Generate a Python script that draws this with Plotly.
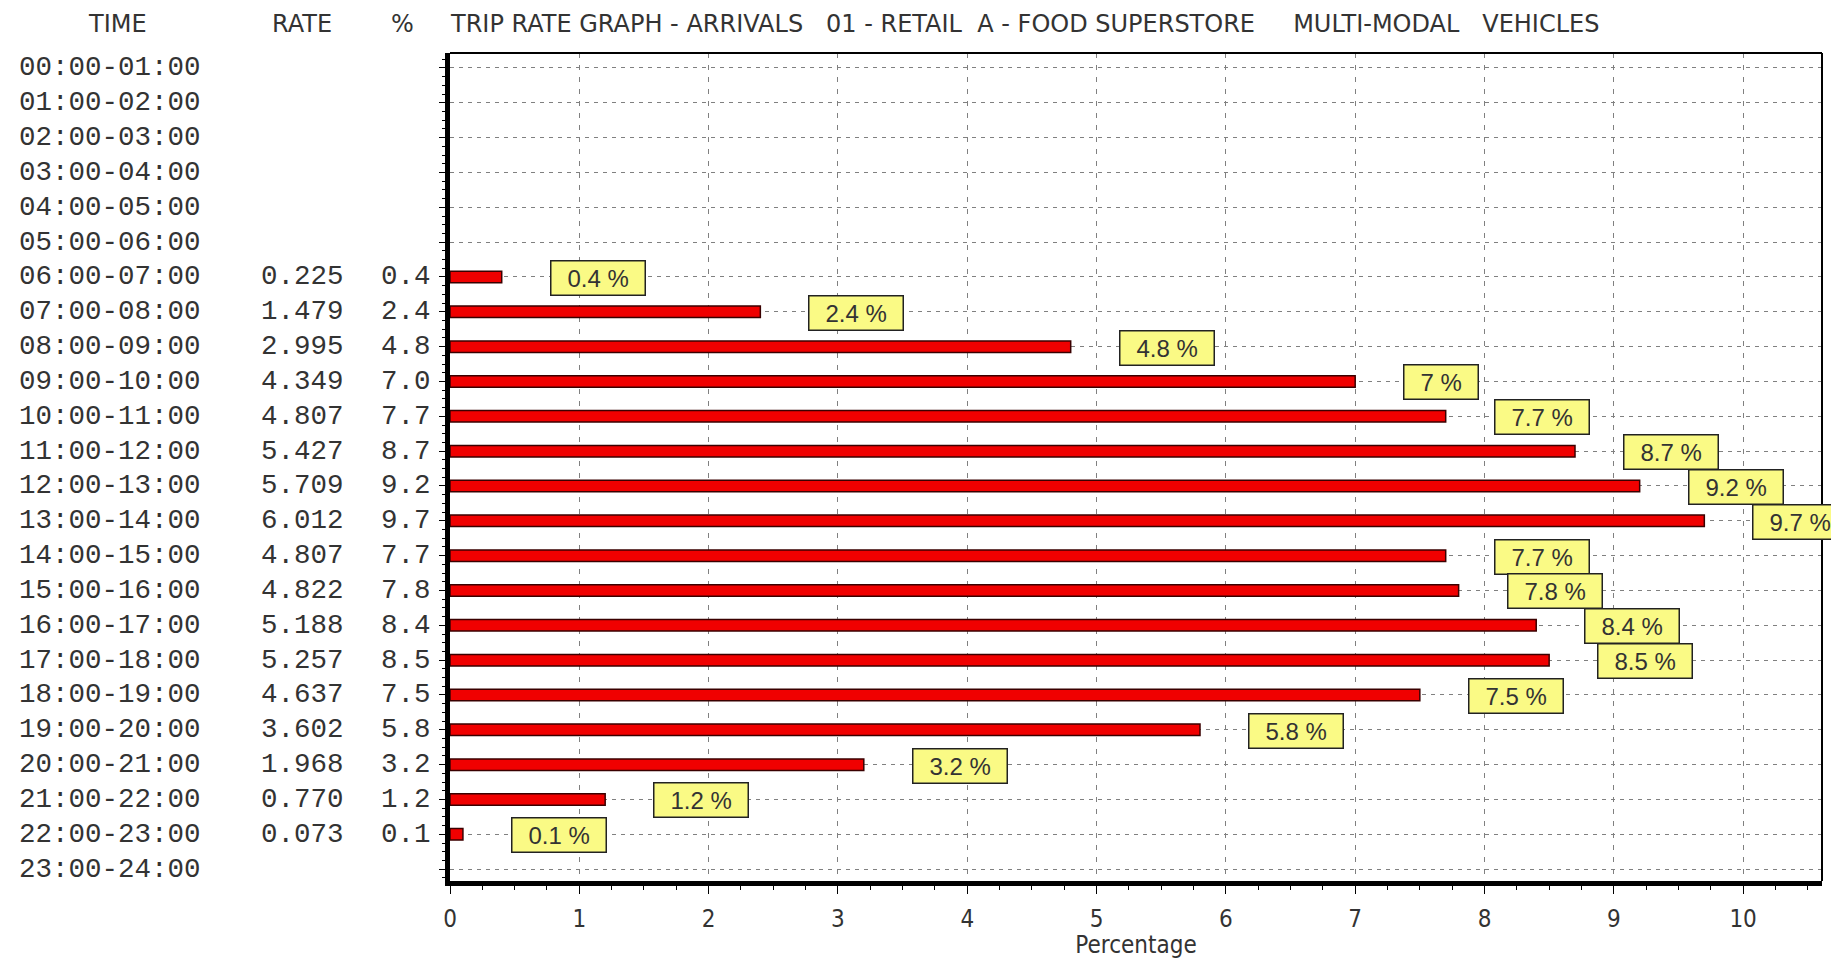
'''
    Trip rate graph (arrivals, food superstore, multi-modal vehicles)
    drawn as a horizontal bar chart with the rate table on the left.
'''

import plotly.graph_objects as go

TIME_SLOTS = [
    "00:00-01:00", "01:00-02:00", "02:00-03:00", "03:00-04:00",
    "04:00-05:00", "05:00-06:00", "06:00-07:00", "07:00-08:00",
    "08:00-09:00", "09:00-10:00", "10:00-11:00", "11:00-12:00",
    "12:00-13:00", "13:00-14:00", "14:00-15:00", "15:00-16:00",
    "16:00-17:00", "17:00-18:00", "18:00-19:00", "19:00-20:00",
    "20:00-21:00", "21:00-22:00", "22:00-23:00", "23:00-24:00",
]

RATES = [
    None, None, None, None, None, None,
    0.225, 1.479, 2.995, 4.349, 4.807, 5.427, 5.709, 6.012,
    4.807, 4.822, 5.188, 5.257, 4.637, 3.602, 1.968, 0.770, 0.073,
    None,
]

PERCENTS = [
    None, None, None, None, None, None,
    0.4, 2.4, 4.8, 7.0, 7.7, 8.7, 9.2, 9.7,
    7.7, 7.8, 8.4, 8.5, 7.5, 5.8, 3.2, 1.2, 0.1,
    None,
]

HEADERS = ["TIME", "RATE", "%"]
GRAPH_TITLE = ("TRIP RATE GRAPH - ARRIVALS\u00a0\u00a0 01 - RETAIL\u00a0 A - FOOD SUPERSTORE"
               "\u00a0\u00a0\u00a0\u00a0 MULTI-MODAL\u00a0\u00a0 VEHICLES")
X_TITLE = "Percentage"

TEXT_COLOR = "#333333"
MONO = "Liberation Mono, Courier New, monospace"
HEAD = "DejaVu Sans, Verdana, sans-serif"
NARROW = "Liberation Sans Narrow, Arial Narrow, DejaVu Sans Condensed, sans-serif"
SANS = "Liberation Sans, Arial, sans-serif"

# approximate glyph widths (em) of the label font, to size the yellow boxes
CHAR_W = {".": 0.278, " ": 0.278, "%": 0.889}


def label_text(value):
    return f"{value:g} %"


def text_width(text, size):
    return sum(CHAR_W.get(c, 0.556) for c in text) * size


rows = list(range(len(TIME_SLOTS)))
bar_rows = [r for r in rows if PERCENTS[r] is not None]

fig = go.Figure(go.Bar(
    x=[PERCENTS[r] for r in bar_rows],
    y=bar_rows,
    orientation="h",
    width=0.33,
    marker=dict(color="#F00000", line=dict(color="#3A0000", width=1.5)),
    hoverinfo="x",
))

annotations = []

# table on the left of the axis
for r in rows:
    annotations.append(dict(
        text=TIME_SLOTS[r], xref="paper", yref="y", x=0, y=r,
        xanchor="left", xshift=-433, showarrow=False,
        font=dict(family=MONO, size=27.5, color=TEXT_COLOR),
    ))
    if RATES[r] is not None:
        annotations.append(dict(
            text=f"{RATES[r]:.3f}", xref="paper", yref="y", x=0, y=r,
            xanchor="right", xshift=-104, showarrow=False,
            font=dict(family=MONO, size=27.5, color=TEXT_COLOR),
        ))
        annotations.append(dict(
            text=f"{PERCENTS[r]:.1f}", xref="paper", yref="y", x=0, y=r,
            xanchor="right", xshift=-17, showarrow=False,
            font=dict(family=MONO, size=27.5, color=TEXT_COLOR),
        ))

# column headers and graph title
for text, shift in zip(HEADERS, [-333, -148, -48]):
    annotations.append(dict(
        text=text, xref="paper", yref="paper", x=0, y=1,
        xanchor="center", yanchor="middle", xshift=shift, yshift=29,
        showarrow=False, font=dict(family=HEAD, size=24, color=TEXT_COLOR),
    ))
annotations.append(dict(
    text=GRAPH_TITLE, xref="paper", yref="paper", x=0, y=1,
    xanchor="left", yanchor="middle", xshift=-2, yshift=29,
    showarrow=False, font=dict(family=HEAD, size=24, color=TEXT_COLOR),
))

# yellow value labels next to each bar
for r in bar_rows:
    txt = label_text(PERCENTS[r])
    annotations.append(dict(
        text=txt, x=PERCENTS[r], y=r, xref="x", yref="y",
        xanchor="left", yanchor="middle", xshift=48, yshift=-1,
        showarrow=False, width=text_width(txt, 24) + 22, height=23,
        bgcolor="#FAFA85", bordercolor="#222222", borderwidth=1.5,
        borderpad=5, font=dict(family=SANS, size=24, color=TEXT_COLOR),
    ))

fig.update_xaxes(
    range=[0, 10.61],
    tick0=0, dtick=1,
    ticks="outside", ticklen=8, tickwidth=1, tickcolor="#000000",
    minor=dict(dtick=0.25, ticks="outside", ticklen=4, tickcolor="#000000", showgrid=False),
    showgrid=True, gridcolor="#808080", gridwidth=1, griddash="5px,7px",
    zeroline=False,
    showline=True, linewidth=5, linecolor="#000000",
    automargin=False,
    ticklabelstandoff=4,
    tickfont=dict(family=NARROW, size=24, color=TEXT_COLOR),
    title=dict(text=X_TITLE, font=dict(family=NARROW, size=24, color=TEXT_COLOR), standoff=15),
)

fig.update_yaxes(
    range=[23.34, -0.43],
    tick0=0, dtick=1,
    ticks="outside", ticklen=6, tickwidth=1, tickcolor="#000000",
    minor=dict(dtick=0.25, ticks="outside", ticklen=3, tickcolor="#000000", showgrid=False),
    showticklabels=False,
    showgrid=True, gridcolor="#808080", gridwidth=1, griddash="4px,5px",
    zeroline=False,
    showline=True, linewidth=5, linecolor="#000000",
    automargin=False,
)

fig.update_layout(
    width=1823,
    height=951,
    autosize=False,
    margin=dict(l=442, r=9, t=45, b=78),
    paper_bgcolor="#FFFFFF",
    plot_bgcolor="#FFFFFF",
    showlegend=False,
    annotations=annotations,
    shapes=[
        dict(type="line", xref="paper", yref="paper", x0=0, x1=1, y0=1, y1=1,
             line=dict(color="#000000", width=2)),
        dict(type="line", xref="paper", yref="paper", x0=1, x1=1, y0=0, y1=1,
             line=dict(color="#000000", width=2)),
    ],
)

fig.write_html("out.html")
